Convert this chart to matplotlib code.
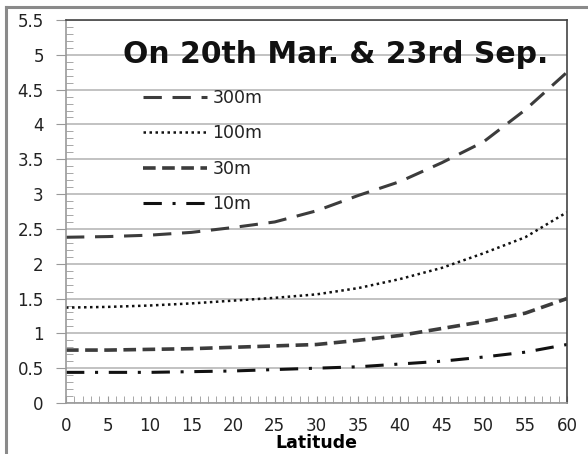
import matplotlib
matplotlib.use("Agg")
import matplotlib.pyplot as plt
from matplotlib.lines import Line2D
from matplotlib.ticker import MultipleLocator

latitude = [0, 5, 10, 15, 20, 25, 30, 35, 40, 45, 50, 55, 60]
h300 = [2.38, 2.39, 2.41, 2.45, 2.52, 2.60, 2.76, 2.98, 3.18, 3.45, 3.75, 4.21, 4.75]
h100 = [1.37, 1.38, 1.40, 1.43, 1.47, 1.51, 1.56, 1.65, 1.78, 1.94, 2.15, 2.38, 2.74]
h30 = [0.76, 0.76, 0.77, 0.78, 0.80, 0.82, 0.84, 0.90, 0.97, 1.07, 1.17, 1.29, 1.50]
h10 = [0.44, 0.44, 0.44, 0.45, 0.46, 0.48, 0.50, 0.52, 0.56, 0.60, 0.66, 0.73, 0.84]
labels = ["300m", "100m", "30m", "10m"]
ytick_vals = [0, 0.5, 1, 1.5, 2, 2.5, 3, 3.5, 4, 4.5, 5, 5.5]
ytick_labels = ['0', '0.5', '1', '1.5', '2', '2.5', '3', '3.5', '4', '4.5', '5', '5.5']
title = "On 20th Mar. & 23rd Sep."

plt.rcParams['font.family'] = ['DejaVu Sans']

fig = plt.figure(figsize=(5.88, 4.54), dpi=100)
ax = fig.add_axes([66/588, 1-403/454, (567-66)/588, (403-20)/454])

# outer frame (top and left visible)
fig.add_artist(Line2D([6/588, 1.0], [1-7/454, 1-7/454], transform=fig.transFigure,
                      color='#8a8a8a', lw=2.2))
fig.add_artist(Line2D([6/588, 6/588], [0, 1-7/454], transform=fig.transFigure,
                      color='#8a8a8a', lw=2.2))

styles = [
    dict(color='#3c3c3c', lw=2.2, dashes=(6, 3.5)),
    dict(color='#111111', lw=1.8, dashes=(1, 1.4)),
    dict(color='#3c3c3c', lw=2.6, dashes=(3.5, 1.8)),
    dict(color='#111111', lw=2.2, dashes=(6, 3.5, 1, 3.5)),
]
for y, lab, st in zip([h300, h100, h30, h10], labels, styles):
    ax.plot(latitude, y, label=lab, **st)

ax.set_xlim(0, 60)
ax.set_ylim(0, 5.5)
ax.xaxis.set_major_locator(MultipleLocator(5))
ax.xaxis.set_minor_locator(MultipleLocator(1))
ax.yaxis.set_minor_locator(MultipleLocator(0.1))
ax.set_yticks(ytick_vals)
ax.set_yticklabels(ytick_labels)
ax.grid(axis='y', which='major', color='#b8b8b8', lw=1.2)
ax.set_axisbelow(True)

for s in ['left', 'bottom']:
    ax.spines[s].set_color('#999999')
    ax.spines[s].set_linewidth(1.2)
for s in ['top', 'right']:
    ax.spines[s].set_color('#444444')
    ax.spines[s].set_linewidth(1.2)

ax.tick_params(axis='y', which='major', direction='out', length=7, color='#999999',
               labelsize=12, labelcolor='#222222', pad=9)
ax.tick_params(axis='y', which='minor', direction='in', length=5, color='#999999')
ax.tick_params(axis='x', which='major', direction='in', length=5, color='#999999',
               labelsize=12, labelcolor='#222222', pad=10)
ax.tick_params(axis='x', which='minor', direction='in', length=5, color='#999999')

ax.set_xlabel('Latitude', fontsize=12.5, fontweight='bold', labelpad=-1)

ax.text(0.538, 0.909, title, transform=ax.transAxes, ha='center', va='center',
        fontsize=21.5, fontweight='bold', color='#111111')

leg = ax.legend(loc='upper left', bbox_to_anchor=(0.14, 0.838), frameon=False,
                fontsize=12.5, handlelength=3.7, handletextpad=0.3, labelspacing=1.0,
                borderaxespad=0)
for t in leg.get_texts():
    t.set_color('#222222')

fig.savefig('out.png', dpi=100)
